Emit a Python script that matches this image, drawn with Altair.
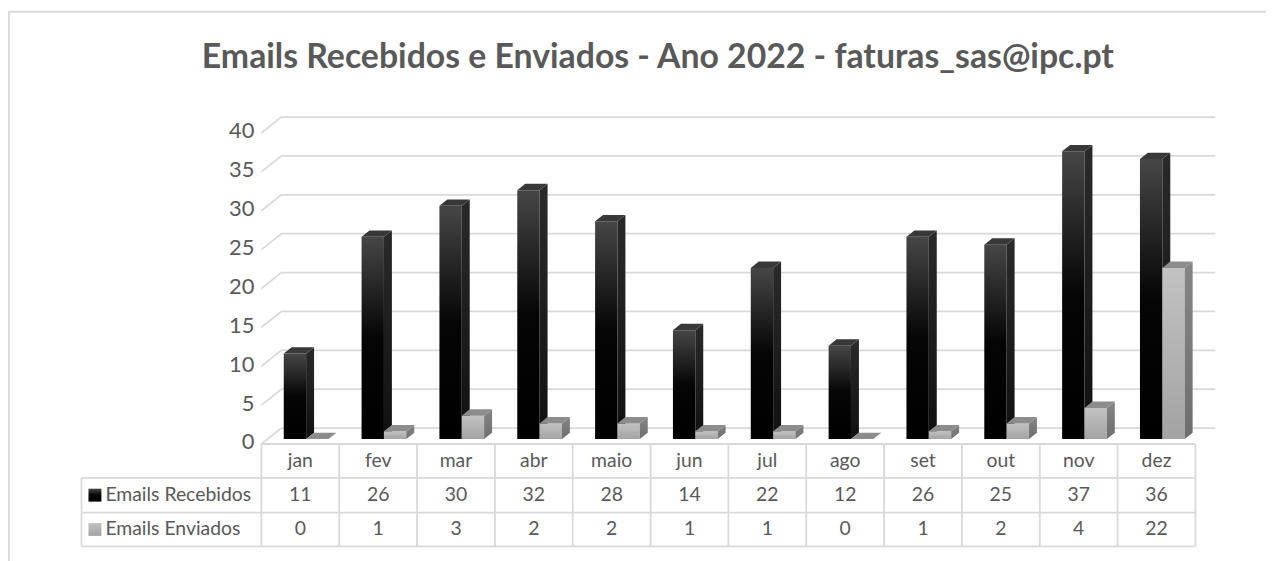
import altair as alt
import pandas as pd

# ---------------- data ----------------
months = ["jan", "fev", "mar", "abr", "maio", "jun", "jul", "ago", "set", "out", "nov", "dez"]
recebidos = [11, 26, 30, 32, 28, 14, 22, 12, 26, 25, 37, 36]
enviados = [0, 1, 3, 2, 2, 1, 1, 0, 1, 2, 4, 22]
series_names = ["Emails Recebidos", "Emails Enviados"]
y_ticks = [0, 5, 10, 15, 20, 25, 30, 35, 40]
title_text = "Emails Recebidos e Enviados - Ano 2022 - faturas_sas@ipc.pt"

# ---------------- layout (page pixels) ----------------
PAGE_W, PAGE_H = 1274, 561
PAD_L = 3
ORIGIN_X, ORIGIN_Y = 8 + PAD_L, 8
W, H = PAGE_W - ORIGIN_X, PAGE_H - ORIGIN_Y
COL_L, COL_R = 263, 1203
NCOL = len(months)
COL_W = (COL_R - COL_L) / NCOL
Y_ZERO = 445          # front plane value 0
PPU = 7.825           # pixels per value unit
WALL_DX, WALL_DY = 20, 16
BAR_BASE = 440
BAR_OFF, BAR_W = 22.5, 22.5
SIDE_DX, SIDE_DY = 8, 6.4
ROW_Y = [445, 479, 514, 548]
LEG_L = 82
TEXT = "#595959"
LINE = "#d9d9d9"
FONT = "Lato"


def fx(px):
    return (px - COL_L) / COL_W


def fy(py):
    return (Y_ZERO - py) / PPU


xs = alt.Scale(domain=[fx(ORIGIN_X), fx(PAGE_W)], nice=False, zero=False)
ys = alt.Scale(domain=[fy(PAGE_H), fy(ORIGIN_Y)], nice=False, zero=False)


def X(f):
    return alt.X(f, type="quantitative", scale=xs, axis=None)


def Y(f):
    return alt.Y(f, type="quantitative", scale=ys, axis=None)


def grad(c0, c1, mid=None):
    stops = [{"offset": 0, "color": c0}]
    if mid:
        stops.append({"offset": mid[0], "color": mid[1]})
    stops.append({"offset": 1, "color": c1})
    return {"gradient": "linear", "x1": 0, "y1": 0, "x2": 0, "y2": 1, "stops": stops}


layers = []

# frame
frame = pd.DataFrame([{"x": fx(8.9), "x2": fx(1290), "y": fy(10), "y2": fy(600)}])
layers.append(alt.Chart(frame).mark_rect(fill=None, stroke=LINE, strokeWidth=1.8, fillOpacity=0)
              .encode(x=X("x"), x2="x2", y=Y("y"), y2="y2"))

# back wall gridlines
dxw, dyw = WALL_DX / COL_W, WALL_DY / PPU
grid_rows = []
for v in y_ticks:
    grid_rows.append({"x": 0, "y": v, "x2": dxw, "y2": v + dyw})
    grid_rows.append({"x": dxw, "y": v + dyw, "x2": NCOL + dxw, "y2": v + dyw})
layers.append(alt.Chart(pd.DataFrame(grid_rows)).mark_rule(color=LINE, strokeWidth=1.8)
              .encode(x=X("x"), x2="x2", y=Y("y"), y2="y2"))

# y labels
ylab = pd.DataFrame({"x": [fx(256)] * len(y_ticks), "y": [v + 0.2 for v in y_ticks],
                     "t": [str(v) for v in y_ticks]})
layers.append(alt.Chart(ylab).mark_text(align="right", baseline="middle", font=FONT, fontSize=22,
                                        color=TEXT)
              .encode(x=X("x"), y=Y("y"), text="t:N"))

# bars
base = fy(BAR_BASE)
sdx, sdy = SIDE_DX / COL_W, SIDE_DY / PPU
styles = [
    {"front": grad("#464646", "#000000", (0.5, "#050505")), "side": grad("#2a2a2a", "#101010"),
     "top": "#383838"},
    {"front": grad("#c2c2c2", "#a3a3a3"), "side": grad("#858585", "#6e6e6e"), "top": "#8c8c8c"},
]
for s, vals in enumerate([recebidos, enviados]):
    fr, sd, tp = [], [], []
    for i, v in enumerate(vals):
        x0 = i + (BAR_OFF + s * BAR_W) / COL_W
        x1 = x0 + BAR_W / COL_W
        top = base + v
        bid = f"{s}-{i}"
        fr.append({"id": bid, "x": x0, "x2": x1, "y": top, "y2": base})
        sd.append({"id": bid, "x": x1, "y": top, "y2": base})
        sd.append({"id": bid, "x": x1 + sdx, "y": top + sdy, "y2": base + sdy})
        tp.append({"id": bid, "y": top, "x": x0, "x2": x1})
        tp.append({"id": bid, "y": top + sdy, "x": x0 + sdx, "x2": x1 + sdx})
    st = styles[s]
    layers.append(alt.Chart(pd.DataFrame(fr)).mark_rect(color=st["front"])
                  .encode(x=X("x"), x2="x2", y=Y("y"), y2="y2"))
    layers.append(alt.Chart(pd.DataFrame(sd)).mark_area(color=st["side"], orient="vertical")
                  .encode(x=X("x"), y=Y("y"), y2="y2", detail="id:N"))
    layers.append(alt.Chart(pd.DataFrame(tp)).mark_area(color=st["top"], orient="horizontal")
                  .encode(y=Y("y"), x=X("x"), x2="x2", detail="id:N"))

# table lines
tl = []
tl.append({"x": 0, "x2": NCOL, "y": fy(ROW_Y[0]), "y2": fy(ROW_Y[0])})
for ry in ROW_Y[1:]:
    tl.append({"x": fx(LEG_L), "x2": NCOL, "y": fy(ry), "y2": fy(ry)})
tl.append({"x": fx(LEG_L), "x2": fx(LEG_L), "y": fy(ROW_Y[1]), "y2": fy(ROW_Y[3])})
for k in range(NCOL + 1):
    tl.append({"x": k, "x2": k, "y": fy(ROW_Y[0]), "y2": fy(ROW_Y[3])})
layers.append(alt.Chart(pd.DataFrame(tl)).mark_rule(color=LINE, strokeWidth=1.8)
              .encode(x=X("x"), x2="x2", y=Y("y"), y2="y2"))

# table text
tt = []
row_c = [(ROW_Y[j] + ROW_Y[j + 1]) / 2 for j in range(3)]
for i, m in enumerate(months):
    tt.append({"x": i + 0.5, "y": fy(row_c[0]), "t": m})
    tt.append({"x": i + 0.5, "y": fy(row_c[1]), "t": str(recebidos[i])})
    tt.append({"x": i + 0.5, "y": fy(row_c[2]), "t": str(enviados[i])})
layers.append(alt.Chart(pd.DataFrame(tt)).mark_text(align="center", baseline="middle", font=FONT,
                                                    fontSize=19.5, color=TEXT)
              .encode(x=X("x"), y=Y("y"), text="t:N"))

leg = pd.DataFrame({"x": [fx(106)] * 2, "y": [fy(row_c[1]), fy(row_c[2])], "t": series_names})
layers.append(alt.Chart(leg).mark_text(align="left", baseline="middle", font=FONT, fontSize=19.5,
                                       color=TEXT)
              .encode(x=X("x"), y=Y("y"), text="t:N"))
for s in range(2):
    sw = pd.DataFrame([{"x": fx(89), "x2": fx(102), "y": fy(row_c[s + 1] - 6.5),
                        "y2": fy(row_c[s + 1] + 6.5)}])
    layers.append(alt.Chart(sw).mark_rect(color=styles[s]["front"])
                  .encode(x=X("x"), x2="x2", y=Y("y"), y2="y2"))

# title
tdf = pd.DataFrame([{"x": fx(662), "y": fy(57), "t": title_text}])
layers.append(alt.Chart(tdf).mark_text(align="center", baseline="middle", font=FONT, fontSize=34,
                                       fontWeight="bold", color=TEXT)
              .encode(x=X("x"), y=Y("y"), text="t:N"))

chart = alt.layer(*layers).properties(
    width=W, height=H,
    padding={"left": PAD_L, "top": 0, "right": 0, "bottom": 0},
    autosize=alt.AutoSizeParams(type="none"),
).configure_view(stroke=None)

chart.save("out.html", embed_options={"renderer": "svg", "actions": False})
